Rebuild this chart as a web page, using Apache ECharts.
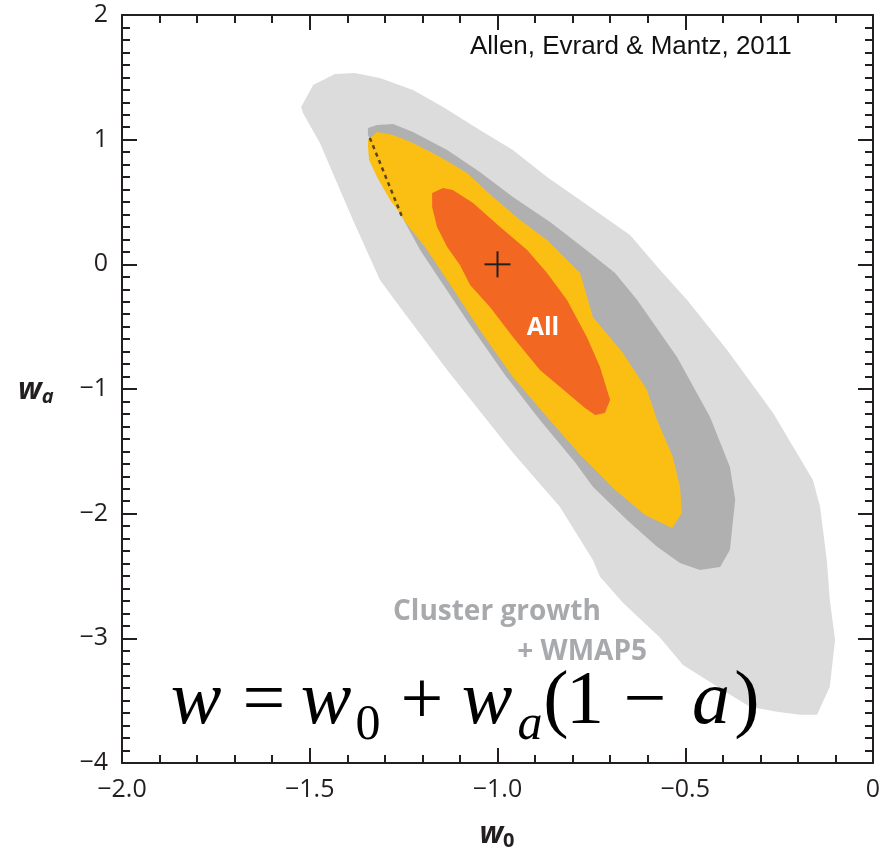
<!DOCTYPE html>
<html>
<head>
<meta charset="utf-8">
<script src="https://cdn.jsdelivr.net/npm/echarts@6/dist/echarts.min.js"></script>
<style>
  html, body { margin: 0; padding: 0; background: #fff; }
  #chart { width: 886px; height: 859px; }
</style>
</head>
<body>
<div id="chart"></div>
<script>
// Axis tick labels
const xTickLabels = ['\u22122.0', '\u22121.5', '\u22121.0', '\u22120.5', '0'];
const yTickLabels = ['\u22124', '\u22123', '\u22122', '\u22121', '0', '1', '2'];

// Confidence contours in the (w0, wa) plane, outermost first
const growthOuter = [
  [-1.523, 1.262], [-1.491, 1.439], [-1.433, 1.527], [-1.380, 1.535], [-1.313, 1.495],
  [-1.225, 1.399], [-1.145, 1.262], [-1.047, 1.078], [-0.959, 0.917], [-0.868, 0.701],
  [-0.780, 0.516], [-0.647, 0.236], [-0.567, -0.045], [-0.495, -0.286], [-0.389, -0.686],
  [-0.266, -1.192], [-0.160, -1.729], [-0.141, -1.945], [-0.123, -2.371], [-0.115, -2.691],
  [-0.101, -3.012], [-0.115, -3.389], [-0.149, -3.613], [-0.194, -3.613], [-0.256, -3.589],
  [-0.328, -3.549], [-0.389, -3.437], [-0.506, -3.213], [-0.567, -2.996], [-0.666, -2.715],
  [-0.727, -2.507], [-0.746, -2.371], [-0.834, -1.945], [-0.959, -1.512], [-1.134, -0.847],
  [-1.260, -0.342], [-1.313, -0.125], [-1.385, 0.356], [-1.473, 0.974], [-1.518, 1.214]
];
const growthInner = [
  [-1.345, 1.094], [-1.321, 1.118], [-1.278, 1.126], [-1.225, 1.062], [-1.134, 0.917],
  [-1.047, 0.741], [-0.959, 0.540], [-0.860, 0.340], [-0.767, 0.123], [-0.687, -0.069],
  [-0.628, -0.286], [-0.522, -0.743], [-0.434, -1.224], [-0.381, -1.625], [-0.367, -1.889],
  [-0.381, -2.290], [-0.407, -2.427], [-0.461, -2.451], [-0.514, -2.395], [-0.575, -2.266],
  [-0.655, -2.050], [-0.746, -1.785], [-0.794, -1.585], [-0.887, -1.248], [-0.980, -0.887],
  [-1.073, -0.486], [-1.153, -0.125], [-1.206, 0.115], [-1.254, 0.380], [-1.326, 0.917],
  [-1.345, 1.038]
];
const allOuter = [
  [-1.345, 0.998], [-1.321, 1.062], [-1.278, 1.038], [-1.225, 0.974], [-1.153, 0.861],
  [-1.081, 0.733], [-1.012, 0.540], [-0.940, 0.356], [-0.868, 0.196], [-0.780, -0.069],
  [-0.746, -0.422], [-0.666, -0.711], [-0.602, -1.007], [-0.575, -1.248], [-0.533, -1.545],
  [-0.514, -1.785], [-0.509, -1.994], [-0.535, -2.114], [-0.607, -2.010], [-0.687, -1.809],
  [-0.780, -1.528], [-0.868, -1.224], [-0.959, -0.903], [-1.047, -0.526], [-1.134, -0.125],
  [-1.193, 0.140], [-1.246, 0.340], [-1.260, 0.412], [-1.286, 0.516], [-1.321, 0.701],
  [-1.342, 0.837], [-1.345, 0.941]
];
const allInner = [
  [-1.174, 0.573], [-1.145, 0.613], [-1.119, 0.597], [-1.065, 0.492], [-0.993, 0.300],
  [-0.921, 0.115], [-0.868, -0.069], [-0.815, -0.286], [-0.762, -0.582], [-0.727, -0.823],
  [-0.706, -1.031], [-0.700, -1.087], [-0.714, -1.192], [-0.740, -1.208], [-0.767, -1.152],
  [-0.815, -1.031], [-0.887, -0.847], [-0.959, -0.582], [-1.020, -0.342], [-1.073, -0.165],
  [-1.100, -0.005], [-1.134, 0.140], [-1.161, 0.300], [-1.174, 0.460]
];
// Boundary of the prior on wa
const priorEdge = [[-1.340, 1.014], [-1.254, 0.380]];
// Fiducial cosmological constant model
const fiducial = [[-1.0, 0.0]];

const contourColors = ['#dcdcdc', '#b0b0b0', '#fbbf14', '#f26722'];
const contours = [growthOuter, growthInner, allOuter, allInner];

const inkColor = '#231f20';
const labelFont = '"Open Sans", "Noto Sans", sans-serif';
const mathFont = '"Liberation Serif", "DejaVu Serif", serif';

function polygonSeries(points, color) {
  return {
    type: 'custom',
    xAxisIndex: 0, yAxisIndex: 0,
    clip: true,
    silent: true,
    z: 1,
    data: [0],
    renderItem: function (params, api) {
      return {
        type: 'polygon',
        shape: { points: points.map(function (p) { return api.coord(p); }) },
        style: { fill: color, stroke: null }
      };
    }
  };
}

function makeXAxis(position, showLabels) {
  return {
    type: 'value', position: position, min: -2, max: 0, interval: 0.5,
    axisLine: { show: true, onZero: false, lineStyle: { color: inkColor, width: 2 } },
    axisTick: { show: true, inside: true, length: 15, lineStyle: { color: inkColor, width: 2 } },
    minorTick: { show: true, splitNumber: 5, length: 8, lineStyle: { color: inkColor, width: 2 } },
    splitLine: { show: false }, minorSplitLine: { show: false },
    axisLabel: {
      show: showLabels, margin: 14, color: inkColor, fontFamily: labelFont, fontSize: 25,
      formatter: function (v) { return xTickLabels[Math.round((v + 2) / 0.5)]; }
    }
  };
}
function makeYAxis(position, showLabels) {
  return {
    type: 'value', position: position, min: -4, max: 2, interval: 1,
    axisLine: { show: true, onZero: false, lineStyle: { color: inkColor, width: 2 } },
    axisTick: { show: true, inside: true, length: 15, lineStyle: { color: inkColor, width: 2 } },
    minorTick: { show: true, splitNumber: 10, length: 8, lineStyle: { color: inkColor, width: 2 } },
    splitLine: { show: false }, minorSplitLine: { show: false },
    axisLabel: {
      show: showLabels, margin: 14, color: inkColor, fontFamily: labelFont, fontSize: 25,
      formatter: function (v) { return yTickLabels[Math.round(v + 4)]; }
    }
  };
}

const chart = echarts.init(document.getElementById('chart'), null, { renderer: 'canvas' });

const series = contours.map(function (c, i) { return polygonSeries(c, contourColors[i]); });
series.push({
  type: 'line', xAxisIndex: 0, yAxisIndex: 0, data: priorEdge, symbol: 'none', silent: true, z: 3,
  lineStyle: { color: '#5c4714', width: 2.5, type: [4, 4] }
});
series.push({
  type: 'custom', xAxisIndex: 0, yAxisIndex: 0, silent: true, data: fiducial, z: 3,
  renderItem: function (params, api) {
    const c = api.coord([api.value(0), api.value(1)]);
    const h = 13;
    const st = { stroke: inkColor, lineWidth: 2 };
    return {
      type: 'group',
      children: [
        { type: 'line', shape: { x1: c[0] - h, y1: c[1], x2: c[0] + h, y2: c[1] }, style: st },
        { type: 'line', shape: { x1: c[0], y1: c[1] - h, x2: c[0], y2: c[1] + h }, style: st }
      ]
    };
  }
});

// Equation of state, laid out token by token: [text, centre x, style]
const eqTokens = [
  ['w', 196, 'i'], ['=', 264, 'n'], ['w', 326, 'i'], ['0', 368, 'sub'],
  ['+', 422, 'n'], ['w', 487, 'i'], ['a', 530, 'subi'], ['(', 556, 'n'],
  ['1', 585, 'n'], ['\u2212', 645, 'n'], ['a', 711, 'i'], [')', 747, 'n']
];
const eqFonts = {
  i: ['italic 76px ' + mathFont, 703],
  n: ['76px ' + mathFont, 703],
  sub: ['50px ' + mathFont, 726],
  subi: ['italic 50px ' + mathFont, 726]
};
const eqGraphics = eqTokens.map(function (t) {
  return {
    type: 'text', x: t[1], y: eqFonts[t[2]][1], z: 100,
    style: { text: t[0], fill: '#000', font: eqFonts[t[2]][0], align: 'center', verticalAlign: 'middle' }
  };
});

chart.setOption({
  animation: false,
  grid: { left: 122, right: 13, top: 15, bottom: 96, containLabel: false },
  xAxis: [makeXAxis('bottom', true), makeXAxis('top', false)],
  yAxis: [makeYAxis('left', true), makeYAxis('right', false)],
  series: series,
  graphic: {
    elements: [
      {
        type: 'text', x: 470, y: 47, z: 100,
        style: { text: 'Allen, Evrard & Mantz, 2011', fill: '#111', font: '26px "Liberation Sans", Arial, sans-serif', verticalAlign: 'middle' }
      },
      {
        type: 'text', x: 543, y: 328, z: 100,
        style: { text: 'All', fill: '#ffffff', font: 'bold 25px ' + labelFont, align: 'center', verticalAlign: 'middle' }
      },
      {
        type: 'text', x: 393, y: 612, z: 100,
        style: { text: 'Cluster growth', fill: '#a7a9ac', font: 'bold 28px ' + labelFont, verticalAlign: 'middle' }
      },
      {
        type: 'text', x: 647, y: 652, z: 100,
        style: { text: '+ WMAP5', fill: '#a7a9ac', font: 'bold 28px ' + labelFont, align: 'right', verticalAlign: 'middle' }
      },
      {
        type: 'text', x: 18, y: 390, z: 100,
        style: {
          text: '{w|w}{s|a}', verticalAlign: 'middle',
          rich: {
            w: { font: 'italic bold 30px ' + labelFont, fill: inkColor },
            s: { font: 'italic bold 20px ' + labelFont, fill: inkColor, padding: [15, 0, 0, 0] }
          }
        }
      },
      {
        type: 'text', x: 497, y: 834, z: 100,
        style: {
          text: '{w|w}{s|0}', align: 'center', verticalAlign: 'middle',
          rich: {
            w: { font: 'italic bold 30px ' + labelFont, fill: inkColor },
            s: { font: 'bold 20px ' + labelFont, fill: inkColor, padding: [15, 0, 0, 0] }
          }
        }
      }
    ].concat(eqGraphics)
  }
});
</script>
</body>
</html>
